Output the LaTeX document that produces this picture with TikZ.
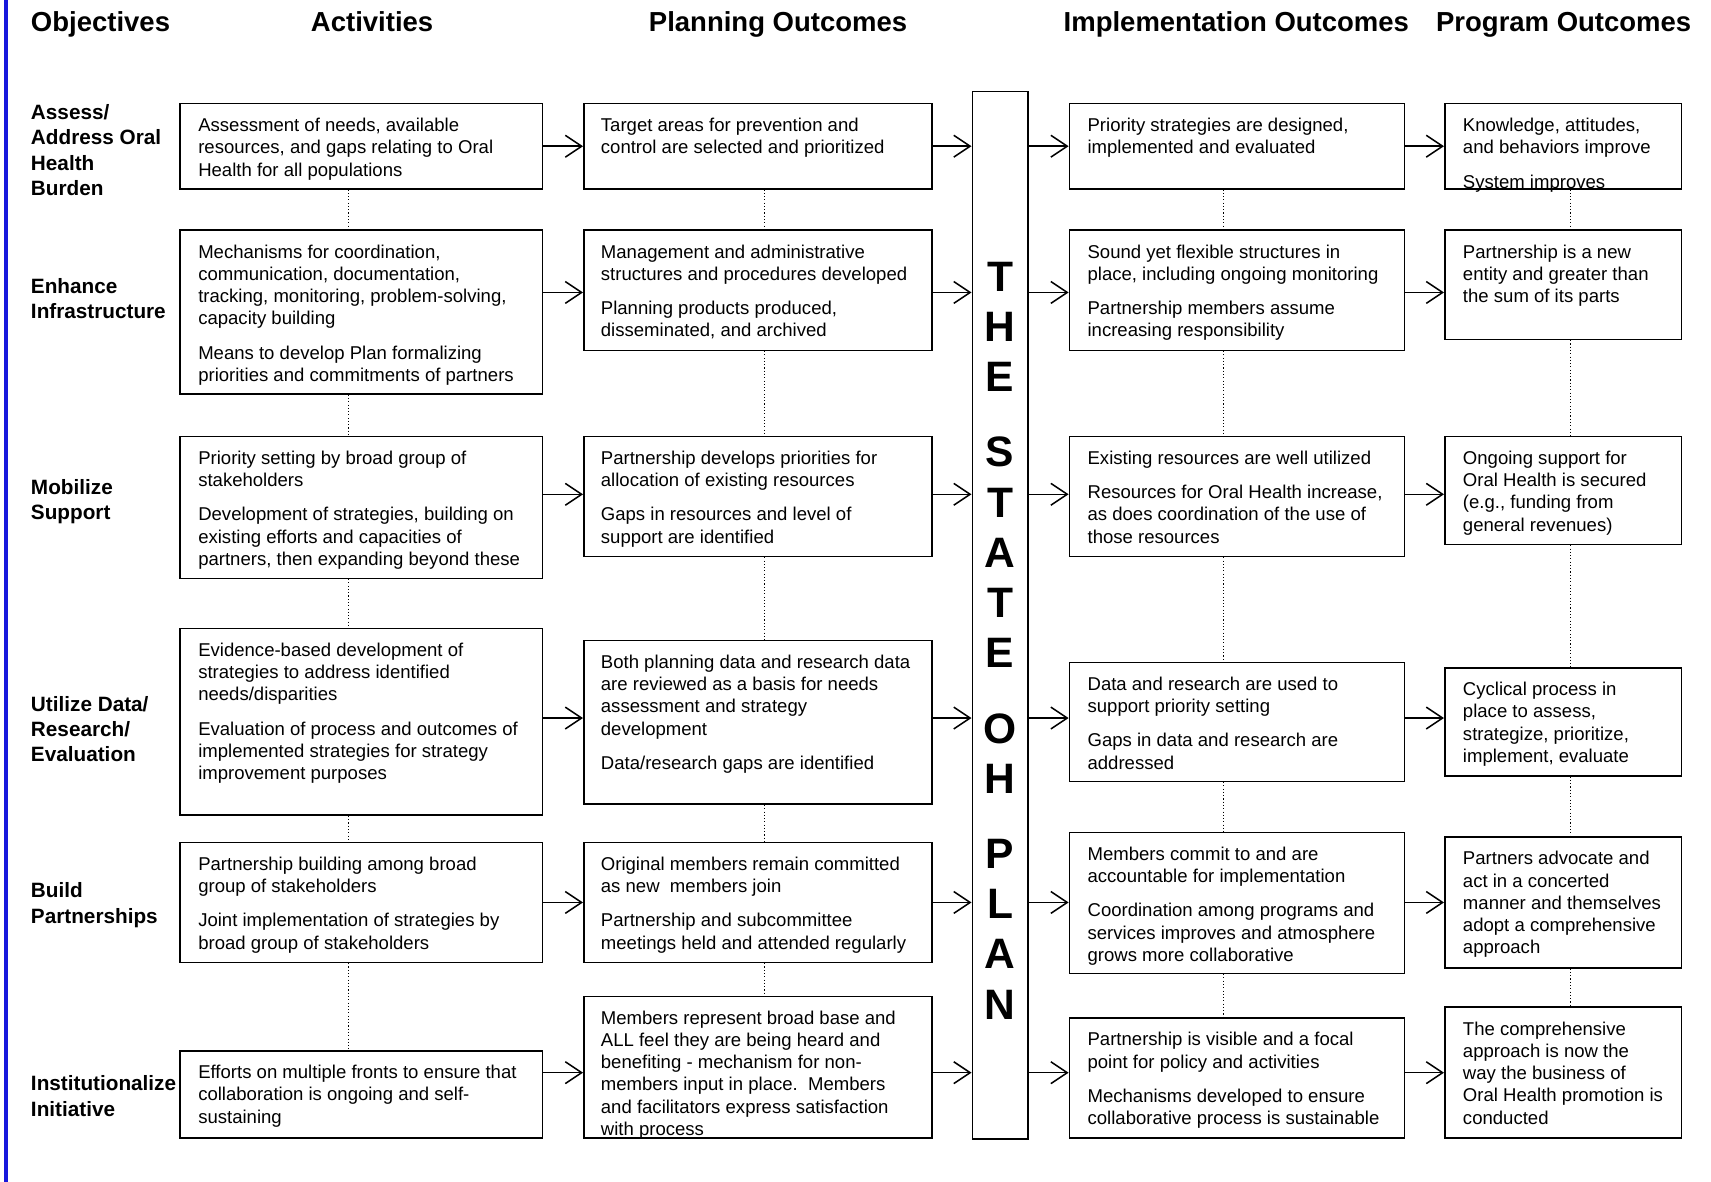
\documentclass[tikz,border=0pt]{standalone}
\usepackage{fontspec}
\setmainfont{Liberation Sans}
\usetikzlibrary{positioning,calc,fit,arrows.meta}
\definecolor{edgeblue}{RGB}{24,24,220}

\begin{document}
\begin{tikzpicture}[x=0.5pt,y=-0.5pt,
    cell/.style={draw, line width=0.7pt, inner sep=0pt},
    celltext/.style={anchor=north west, inner sep=0pt, align=left, font=\fontsize{8.5}{10.2}\selectfont},
    rowhead/.style={anchor=west, inner sep=0pt, align=left, font=\bfseries\fontsize{9.5}{11.5}\selectfont},
    colhead/.style={anchor=base, inner sep=0pt, font=\bfseries\fontsize{12.6}{15}\selectfont},
    planword/.style={inner sep=0pt, align=center, font=\bfseries\fontsize{19.5}{23}\selectfont},
    arr/.style={line width=0.7pt, -{Straight Barb[length=7.5pt,width=10pt]}},
    link/.style={densely dotted, line width=0.5pt}]
    \useasboundingbox (0,0) rectangle (1568,1083);

      % Margin rule
      \draw[edgeblue, line width=1.7pt] (5.5,0) -- (5.5,1083);

      % Column heads
      \node[colhead, anchor=base west] (hobj) at (28,29) {Objectives};
      \node[colhead] (hact) at (341,29) {Activities};
      \node[colhead] (hplan) at (713,29) {Planning Outcomes};
      \node[colhead] (himp) at (1133,29) {Implementation Outcomes};
      \node[colhead] (hprog) at (1433,29) {Program Outcomes};

      % Objectives
      \node[rowhead] (obj1) at (28,137.5) {Assess/\\Address Oral\\Health\\Burden};
      \node[rowhead] (obj2) at (28,273.5) {Enhance\\Infrastructure};
      \node[rowhead] (obj3) at (28,459.5) {Mobilize\\Support};
      \node[rowhead] (obj4) at (28,668) {Utilize Data/\\Research/\\Evaluation};
      \node[rowhead] (obj5) at (28,829.5) {Build\\Partnerships};
      \node[rowhead] (obj6) at (28,1004.5) {Institutionalize\\Initiative};

      % Activities
      \node[cell, fit={(165,95) (497,173)}] (a1) {};
      \node[celltext] (a1t) at ([shift={(17,13.5)}]a1.north west) {Assessment of needs, available\\resources, and gaps relating to Oral\\Health for all populations};
      \node[cell, fit={(165,211) (497,361)}] (a2) {};
      \node[celltext] (a2t) at ([shift={(17,13.5)}]a2.north west) {Mechanisms for coordination,\\communication, documentation,\\tracking, monitoring, problem-solving,\\capacity building\\[5.5pt]Means to develop Plan formalizing\\priorities and commitments of partners};
      \node[cell, fit={(165,400) (497,530)}] (a3) {};
      \node[celltext] (a3t) at ([shift={(17,13.5)}]a3.north west) {Priority setting by broad group of\\stakeholders\\[5.5pt]Development of strategies, building on\\existing efforts and capacities of\\partners, then expanding beyond these};
      \node[cell, fit={(165,576) (497,747)}] (a4) {};
      \node[celltext] (a4t) at ([shift={(17,13.5)}]a4.north west) {Evidence-based development of\\strategies to address identified\\needs/disparities\\[5.5pt]Evaluation of process and outcomes of\\implemented strategies for strategy\\improvement purposes};
      \node[cell, fit={(165,772) (497,882)}] (a5) {};
      \node[celltext] (a5t) at ([shift={(17,13.5)}]a5.north west) {Partnership building among broad\\group of stakeholders\\[5.5pt]Joint implementation of strategies by\\broad group of stakeholders};
      \node[cell, fit={(165,963) (497,1043)}] (a6) {};
      \node[celltext] (a6t) at ([shift={(17,13.5)}]a6.north west) {Efforts on multiple fronts to ensure that\\collaboration is ongoing and self-\\sustaining};

      % Planning outcomes
      \node[cell, fit={(535,95) (854,173)}] (p1) {};
      \node[celltext] (p1t) at ([shift={(16,13.5)}]p1.north west) {Target areas for prevention and\\control are selected and prioritized};
      \node[cell, fit={(535,211) (854,321)}] (p2) {};
      \node[celltext] (p2t) at ([shift={(16,13.5)}]p2.north west) {Management and administrative\\structures and procedures developed\\[5.5pt]Planning products produced,\\disseminated, and archived};
      \node[cell, fit={(535,400) (854,510)}] (p3) {};
      \node[celltext] (p3t) at ([shift={(16,13.5)}]p3.north west) {Partnership develops priorities for\\allocation of existing resources\\[5.5pt]Gaps in resources and level of\\support are identified};
      \node[cell, fit={(535,587) (854,737)}] (p4) {};
      \node[celltext] (p4t) at ([shift={(16,13.5)}]p4.north west) {Both planning data and research data\\are reviewed as a basis for needs\\assessment and strategy\\development\\[5.5pt]Data/research gaps are identified};
      \node[cell, fit={(535,772) (854,882)}] (p5) {};
      \node[celltext] (p5t) at ([shift={(16,13.5)}]p5.north west) {Original members remain committed\\as new\ \ members join\\[5.5pt]Partnership and subcommittee\\meetings held and attended regularly};
      \node[cell, fit={(535,913) (854,1043)}] (p6) {};
      \node[celltext] (p6t) at ([shift={(16,13.5)}]p6.north west) {Members represent broad base and\\ALL feel they are being heard and\\benefiting - mechanism for non-\\members input in place.\ \ Members\\and facilitators express satisfaction\\with process};

      % The plan
      \node[cell, fit={(891,84) (942,1044)}] (plan) {};
      \node[planword] (planword) at (916.5,587) {T\\H\\E\\[11.5pt]S\\T\\A\\T\\E\\[11.5pt]O\\H\\[11.5pt]P\\L\\A\\N};

      % Implementation outcomes
      \node[cell, fit={(980,95) (1287,173)}] (i1) {};
      \node[celltext] (i1t) at ([shift={(17,13.5)}]i1.north west) {Priority strategies are designed,\\implemented and evaluated};
      \node[cell, fit={(980,211) (1287,321)}] (i2) {};
      \node[celltext] (i2t) at ([shift={(17,13.5)}]i2.north west) {Sound yet flexible structures in\\place, including ongoing monitoring\\[5.5pt]Partnership members assume\\increasing responsibility};
      \node[cell, fit={(980,400) (1287,510)}] (i3) {};
      \node[celltext] (i3t) at ([shift={(17,13.5)}]i3.north west) {Existing resources are well utilized\\[5.5pt]Resources for Oral Health increase,\\as does coordination of the use of\\those resources};
      \node[cell, fit={(980,607) (1287,716)}] (i4) {};
      \node[celltext] (i4t) at ([shift={(17,13.5)}]i4.north west) {Data and research are used to\\support priority setting\\[5.5pt]Gaps in data and research are\\addressed};
      \node[cell, fit={(980,763) (1287,892)}] (i5) {};
      \node[celltext] (i5t) at ([shift={(17,13.5)}]i5.north west) {Members commit to and are\\accountable for implementation\\[5.5pt]Coordination among programs and\\services improves and atmosphere\\grows more collaborative};
      \node[cell, fit={(980,933) (1287,1043)}] (i6) {};
      \node[celltext] (i6t) at ([shift={(17,13.5)}]i6.north west) {Partnership is visible and a focal\\point for policy and activities\\[5.5pt]Mechanisms developed to ensure\\collaborative process is sustainable};

      % Program outcomes
      \node[cell, fit={(1324,95) (1541,173)}] (o1) {};
      \node[celltext] (o1t) at ([shift={(17,13.5)}]o1.north west) {Knowledge, attitudes,\\and behaviors improve\\[5.5pt]System improves};
      \node[cell, fit={(1324,211) (1541,311)}] (o2) {};
      \node[celltext] (o2t) at ([shift={(17,13.5)}]o2.north west) {Partnership is a new\\entity and greater than\\the sum of its parts};
      \node[cell, fit={(1324,400) (1541,499)}] (o3) {};
      \node[celltext] (o3t) at ([shift={(17,13.5)}]o3.north west) {Ongoing support for\\Oral Health is secured\\(e.g., funding from\\general revenues)};
      \node[cell, fit={(1324,612) (1541,711)}] (o4) {};
      \node[celltext] (o4t) at ([shift={(17,13.5)}]o4.north west) {Cyclical process in\\place to assess,\\strategize, prioritize,\\implement, evaluate};
      \node[cell, fit={(1324,767) (1541,887)}] (o5) {};
      \node[celltext] (o5t) at ([shift={(17,13.5)}]o5.north west) {Partners advocate and\\act in a concerted\\manner and themselves\\adopt a comprehensive\\approach};
      \node[cell, fit={(1324,923) (1541,1043)}] (o6) {};
      \node[celltext] (o6t) at ([shift={(17,13.5)}]o6.north west) {The comprehensive\\approach is now the\\way the business of\\Oral Health promotion is\\conducted};

      % Arrows along each row
      \coordinate (r1) at (0,134);
      \coordinate (r2) at (0,268);
      \coordinate (r3) at (0,453);
      \coordinate (r4) at (0,658);
      \coordinate (r5) at (0,827);
      \coordinate (r6) at (0,983);
      \foreach \r in {1,...,6} {
        \draw[arr] (a\r.east |- r\r) -- (p\r.west |- r\r);
        \draw[arr] (p\r.east |- r\r) -- (plan.west |- r\r);
        \draw[arr] (plan.east |- r\r) -- (i\r.west |- r\r);
        \draw[arr] (i\r.east |- r\r) -- (o\r.west |- r\r);
      }

      % Dotted links down each column
      \coordinate (ca) at (319,0);
      \coordinate (cp) at (701,0);
      \coordinate (ci) at (1121,0);
      \coordinate (co) at (1439,0);
      \foreach \col/\cx in {a/ca, p/cp, i/ci, o/co}
        \foreach \r/\s in {1/2, 2/3, 3/4, 4/5, 5/6}
          \draw[link] (\col\r.south -| \cx) -- (\col\s.north -| \cx);
  \end{tikzpicture}
\end{document}
